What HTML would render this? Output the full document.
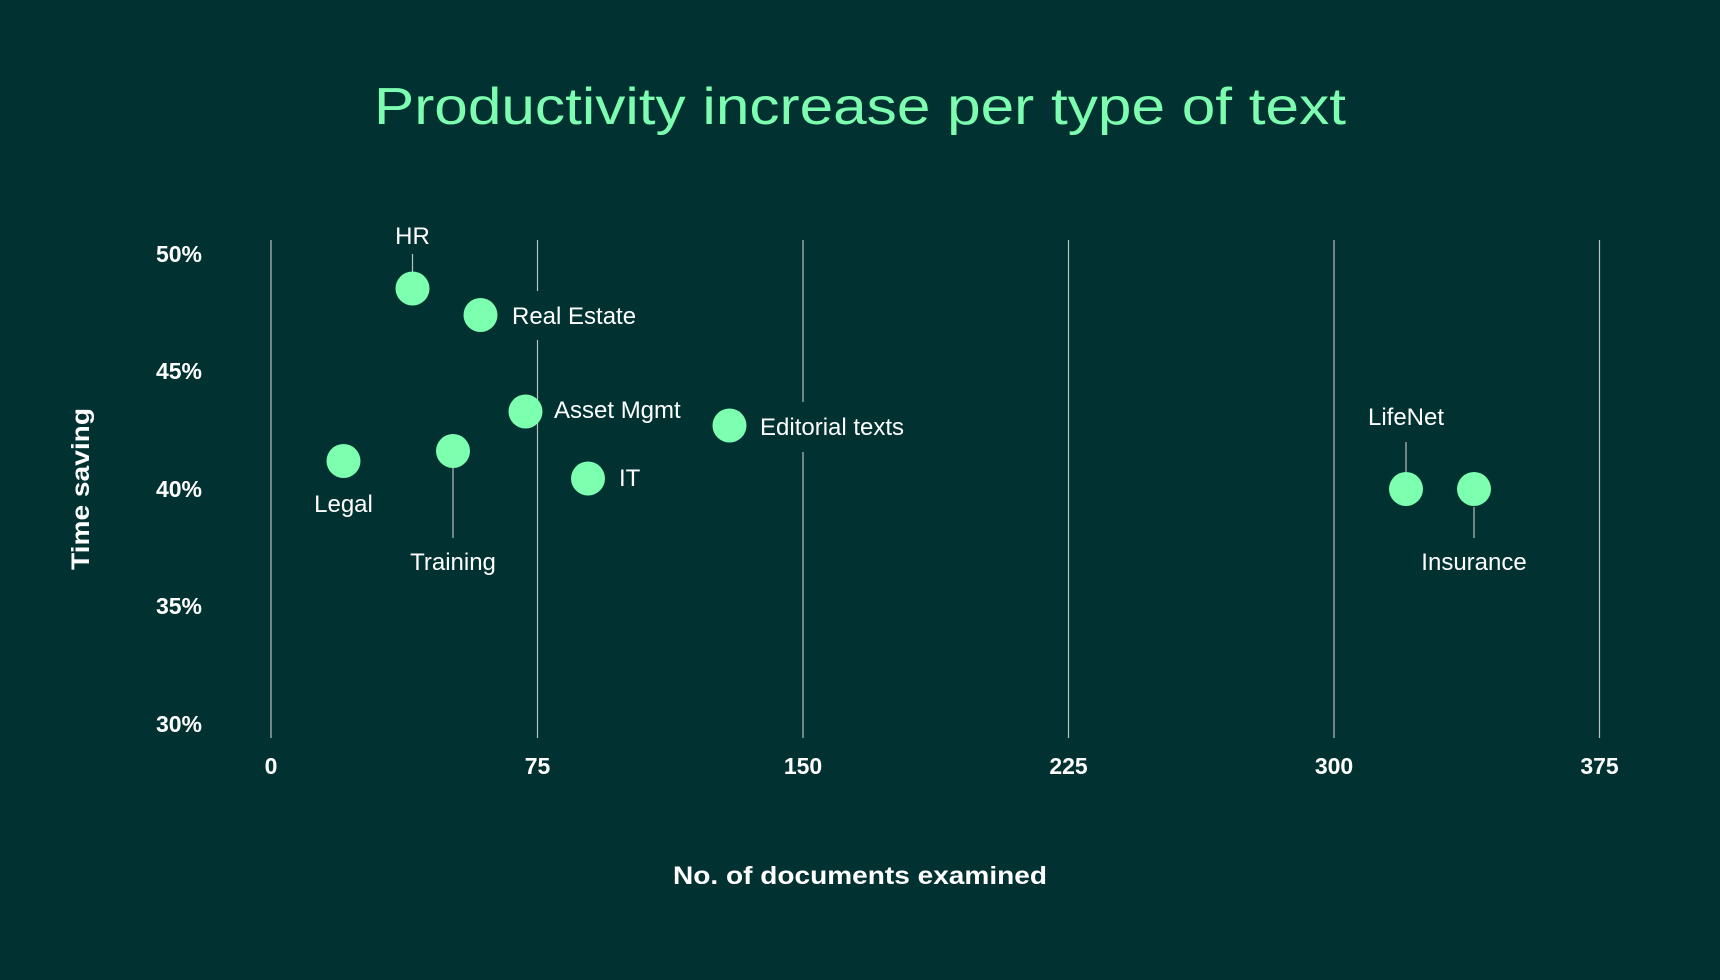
<!DOCTYPE html>
<html><head><meta charset="utf-8"><style>
html,body{margin:0;padding:0;background:#013231;}
svg{display:block}
text{font-family:"Liberation Sans",sans-serif;}
</style></head><body>
<svg width="1720" height="980" viewBox="0 0 1720 980" xmlns="http://www.w3.org/2000/svg">
<rect width="1720" height="980" fill="#013231"/>
<text x="860" y="124" text-anchor="middle" font-size="52" fill="#7dfdb0" textLength="972" lengthAdjust="spacingAndGlyphs">Productivity increase per type of text</text>
<g stroke="#b8c2c0" stroke-width="1.2">
<line x1="271" y1="240" x2="271" y2="738"/>
<line x1="537.5" y1="240" x2="537.5" y2="291"/>
<line x1="537.5" y1="340" x2="537.5" y2="738"/>
<line x1="803" y1="240" x2="803" y2="402"/>
<line x1="803" y1="452" x2="803" y2="738"/>
<line x1="1068.5" y1="240" x2="1068.5" y2="738"/>
<line x1="1334" y1="240" x2="1334" y2="738"/>
<line x1="1599.5" y1="240" x2="1599.5" y2="738"/>
<line x1="412.5" y1="254" x2="412.5" y2="273"/>
<line x1="453" y1="467" x2="453" y2="538"/>
<line x1="1406" y1="442" x2="1406" y2="472"/>
<line x1="1474" y1="507" x2="1474" y2="538"/>
</g>
<g font-size="23" font-weight="bold" fill="#fff" text-anchor="end">
<text x="202" y="262">50%</text>
<text x="202" y="379">45%</text>
<text x="202" y="497">40%</text>
<text x="202" y="614">35%</text>
<text x="202" y="732">30%</text>
</g>
<g font-size="23" font-weight="bold" fill="#fff" text-anchor="middle">
<text x="271" y="774">0</text>
<text x="537.5" y="774">75</text>
<text x="803" y="774">150</text>
<text x="1068.5" y="774">225</text>
<text x="1334" y="774">300</text>
<text x="1599.5" y="774">375</text>
</g>
<text x="860" y="884" text-anchor="middle" font-size="25" font-weight="bold" fill="#fff" textLength="374" lengthAdjust="spacingAndGlyphs">No. of documents examined</text>
<text transform="translate(89,489) rotate(-90)" text-anchor="middle" font-size="25" font-weight="bold" fill="#fff" textLength="162" lengthAdjust="spacingAndGlyphs">Time saving</text>
<g fill="#7dffb0">
<circle cx="412.5" cy="288.5" r="17"/>
<circle cx="480.5" cy="315" r="17"/>
<circle cx="525.5" cy="411.5" r="17"/>
<circle cx="729.5" cy="425.5" r="17"/>
<circle cx="343.5" cy="461" r="17"/>
<circle cx="453" cy="451" r="17"/>
<circle cx="588" cy="478.5" r="17"/>
<circle cx="1406" cy="489" r="17"/>
<circle cx="1474" cy="489" r="17"/>
</g>
<g font-size="24" fill="#fff">
<text x="412.5" y="244" text-anchor="middle">HR</text>
<text x="512" y="324">Real Estate</text>
<text x="554" y="418">Asset Mgmt</text>
<text x="760" y="435">Editorial texts</text>
<text x="619" y="486">IT</text>
<text x="343.5" y="512" text-anchor="middle">Legal</text>
<text x="453" y="570" text-anchor="middle">Training</text>
<text x="1406" y="425" text-anchor="middle">LifeNet</text>
<text x="1474" y="570" text-anchor="middle">Insurance</text>
</g>
</svg>
</body></html>
